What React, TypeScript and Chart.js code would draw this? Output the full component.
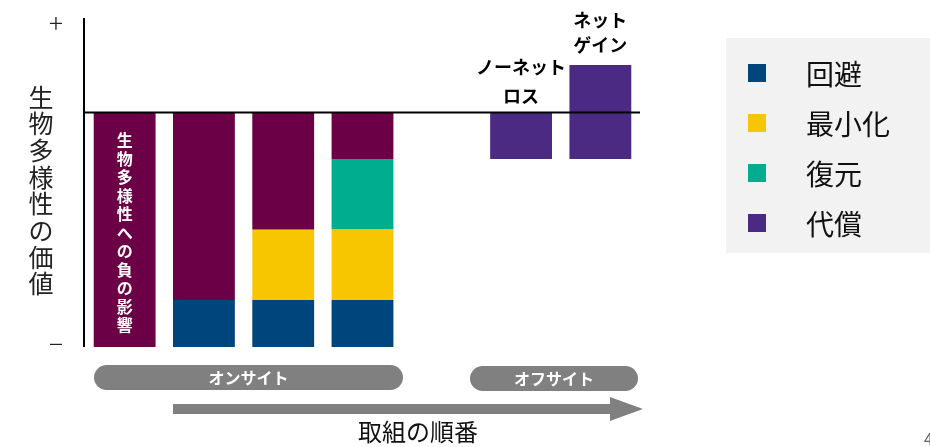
import React, { useEffect, useRef } from "react";
import { Chart, registerables } from "chart.js";

Chart.register(...registerables);

// ---- data ----
const categories = ["影響", "回避", "最小化", "復元", "", "ノーネットロス", "ネットゲイン"];
type Range = [number, number] | null;
const impactValues: Range[] = [[-10, 0], [-8, 0], [-5, 0], [-2, 0], null, null, null];
const avoidValues: Range[] = [null, [-10, -8], [-10, -8], [-10, -8], null, null, null];
const minimiseValues: Range[] = [null, null, [-8, -5], [-8, -5], null, null, null];
const restoreValues: Range[] = [null, null, null, [-5, -2], null, null, null];
const offsetValues: Range[] = [null, null, null, null, null, [-2, 0], [-2, 2]];
const seriesLabels = ["生物多様性への負の影響", "回避", "最小化", "復元", "代償"];
const seriesColors = ["#6C0046", "#00457B", "#F8C600", "#00AE8F", "#4B2A83"];
const yTickLabels = ["+", "−"];
const yTitle = "生物多様性の価値";
const barText = "生物多様性への負の影響";
const netLossLines = ["ノーネット", "ロス"];
const netGainLines = ["ネット", "ゲイン"];
const groupLabels = ["オンサイト", "オフサイト"];
const xTitle = "取組の順番";
const pageNumber = "4";
const yMin = -10;
const yMax = 4;

const JP = '"Noto Sans CJK JP", "Noto Sans", sans-serif';

function roundRect(ctx: CanvasRenderingContext2D, x: number, y: number, w: number, h: number) {
  const r = h / 2;
  ctx.beginPath();
  ctx.moveTo(x + r, y);
  ctx.lineTo(x + w - r, y);
  ctx.arc(x + w - r, y + r, r, -Math.PI / 2, Math.PI / 2);
  ctx.lineTo(x + r, y + h);
  ctx.arc(x + r, y + r, r, Math.PI / 2, (3 * Math.PI) / 2);
  ctx.closePath();
  ctx.fill();
}

const decorPlugin = {
  id: "decor",
  afterDatasetsDraw(chart: any) {
    const ctx: CanvasRenderingContext2D = chart.ctx;
    const area = chart.chartArea;
    const ys = chart.scales.y;
    const xs = chart.scales.x;
    ctx.save();
    // axes
    ctx.strokeStyle = "#000";
    ctx.lineWidth = 2;
    ctx.beginPath();
    ctx.moveTo(area.left - 1, area.top);
    ctx.lineTo(area.left - 1, area.bottom);
    ctx.stroke();
    const y0 = ys.getPixelForValue(0);
    ctx.beginPath();
    ctx.moveTo(area.left - 1, y0 + 0.5);
    ctx.lineTo(area.right, y0 + 0.5);
    ctx.stroke();

    // y tick labels
    ctx.fillStyle = "#222";
    ctx.font = `300 26px ${JP}`;
    ctx.textAlign = "center";
    ctx.textBaseline = "middle";
    ctx.fillText(yTickLabels[0], area.left - 29, ys.getPixelForValue(yMax) + 5);
    ctx.fillText(yTickLabels[1], area.left - 29, ys.getPixelForValue(yMin) - 3);

    // y title (vertical writing)
    ctx.font = `400 25px ${JP}`;
    const chars = Array.from(yTitle);
    const step = 26.7;
    const midY = (97 + 284) / 2;
    chars.forEach((c, i) => {
      ctx.fillText(c, 41, midY + (i - (chars.length - 1) / 2) * step);
    });

    // text inside first bar
    ctx.fillStyle = "#fff";
    ctx.font = `700 16px ${JP}`;
    const bChars = Array.from(barText);
    const bx = xs.getPixelForValue(0);
    bChars.forEach((c, i) => {
      ctx.fillText(c, bx, 140 + i * 18.5);
    });

    // net labels
    ctx.fillStyle = "#000";
    ctx.font = `700 18px ${JP}`;
    const lx = xs.getPixelForValue(5);
    ctx.fillText(netLossLines[0], lx, 67);
    ctx.fillText(netLossLines[1], lx, 96);
    const gx = xs.getPixelForValue(6);
    ctx.fillText(netGainLines[0], gx, 20);
    ctx.fillText(netGainLines[1], gx, 45);

    // pills
    ctx.fillStyle = "#808080";
    roundRect(ctx, 94, 365, 309, 25);
    roundRect(ctx, 470, 366, 168, 25);
    ctx.fillStyle = "#fff";
    ctx.font = `700 16px ${JP}`;
    ctx.fillText(groupLabels[0], (94 + 403) / 2, 378);
    ctx.fillText(groupLabels[1], (470 + 638) / 2, 379);

    // arrow
    ctx.fillStyle = "#808080";
    ctx.fillRect(173, 404, 438, 10);
    ctx.beginPath();
    ctx.moveTo(610, 397);
    ctx.lineTo(643, 409);
    ctx.lineTo(610, 421);
    ctx.closePath();
    ctx.fill();

    ctx.fillStyle = "#111";
    ctx.font = `400 24px ${JP}`;
    ctx.fillText(xTitle, 418, 432);

    // page number (cut off at right edge)
    ctx.fillStyle = "#666";
    ctx.font = `400 16px ${JP}`;
    ctx.textAlign = "left";
    ctx.fillText(pageNumber, 924, 439);
    ctx.textAlign = "center";

    // legend
    ctx.fillStyle = "#F2F2F2";
    ctx.fillRect(726, 38, 204, 215);
    const ds = chart.data.datasets;
    for (let i = 1; i < ds.length; i++) {
      const cy = 73 + (i - 1) * 50;
      ctx.fillStyle = ds[i].backgroundColor;
      ctx.fillRect(748, cy - 9, 18, 18);
      ctx.fillStyle = "#111";
      ctx.font = `400 28px ${JP}`;
      ctx.textAlign = "left";
      ctx.fillText(ds[i].label, 806, cy + 1);
      ctx.textAlign = "center";
    }
    ctx.restore();
  },
};

export default function App() {
  const ref = useRef<HTMLCanvasElement>(null);
  useEffect(() => {
    const canvas = ref.current!;
    const allValues = [impactValues, avoidValues, minimiseValues, restoreValues, offsetValues];
    const chart = new Chart(canvas, {
      type: "bar",
      data: {
        labels: categories,
        datasets: allValues.map((vals, i) => ({
          label: seriesLabels[i],
          data: vals as any,
          backgroundColor: seriesColors[i],
          borderWidth: 0,
          barPercentage: 0.78,
          categoryPercentage: 1,
        })),
      },
      options: {
        responsive: false,
        animation: false,
        layout: { padding: { left: 85, right: 290, top: 18, bottom: 100 } },
        plugins: { legend: { display: false }, tooltip: { enabled: false } },
        scales: {
          x: { display: false, stacked: true },
          y: { display: false, stacked: false, min: yMin, max: yMax },
        },
      },
      plugins: [decorPlugin],
    });
    return () => chart.destroy();
  }, []);
  return (
    <div style={{ position: "absolute", left: 0, top: 0, width: 930, height: 447, background: "#fff" }}>
      <canvas ref={ref} width={930} height={447} style={{ display: "block" }} />
    </div>
  );
}
